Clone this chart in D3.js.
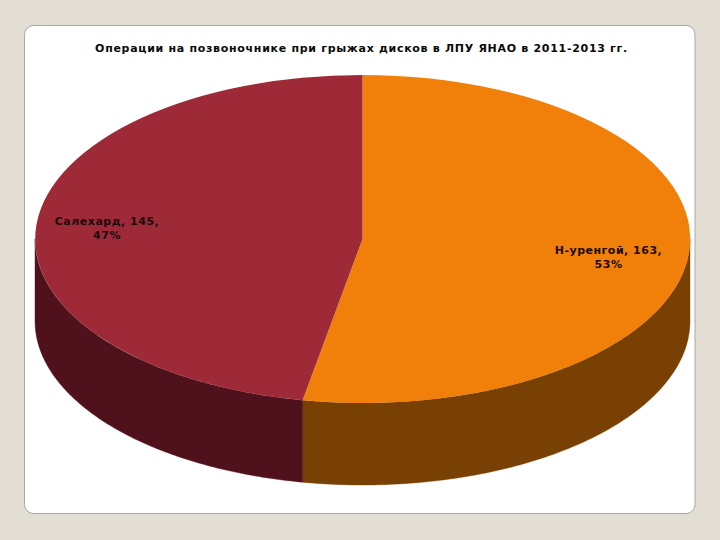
<!DOCTYPE html>
<html><head><meta charset="utf-8">
<script src="https://cdn.jsdelivr.net/npm/d3@7/dist/d3.min.js"></script>
<style>html,body{margin:0;padding:0;background:#e3ded4}svg{display:block}</style>
</head><body><svg id="c" width="720" height="540"></svg>
<script>
const chartTitle = "Операции на позвоночнике при грыжах дисков в ЛПУ ЯНАО в 2011-2013 гг.";
const categories = ["Н-уренгой", "Салехард"];
const values = [163, 145];
const percents = ["53%", "47%"];
const topColors = ["#f0800a", "#9e2a38"];
const sideColors = ["#784003", "#4f121c"];
const labelLines = [["Н-уренгой, 163,", "53%"], ["Салехард, 145,", "47%"]];

const cx = 362.5, cy = 239, rx = 327.5, ry = 164, depth = 82;
const svg = d3.select("#c");
const sx = d3.scaleLinear().domain([-1, 1]).range([cx - rx, cx + rx]);
const sy = d3.scaleLinear().domain([-1, 1]).range([cy - ry, cy + ry]);

svg.append("rect").attr("x", 24.5).attr("y", 25.5).attr("width", 670.5).attr("height", 488)
  .attr("rx", 9).attr("fill", "#fff").attr("stroke", "#a8a8a2").attr("stroke-width", 1);

svg.append("text").attr("x", 361.5).attr("y", 52).attr("text-anchor", "middle")
  .attr("font-family", "DejaVu Sans").attr("font-weight", "bold").attr("font-size", 11)
  .attr("letter-spacing", 0.7).attr("fill", "#0a0a0a").text(chartTitle);

const arcs = d3.pie().sort(null)(values);

// side walls: only the front half of the disc is visible
const wall = d3.area()
  .x(a => sx(Math.sin(a)))
  .y0(a => sy(-Math.cos(a)))
  .y1(a => sy(-Math.cos(a)) + depth);
arcs.forEach((d, i) => {
  const a0 = Math.max(d.startAngle, Math.PI / 2), a1 = Math.min(d.endAngle, 3 * Math.PI / 2);
  if (a1 <= a0) return;
  const n = 120, angles = d3.range(n + 1).map(k => a0 + (a1 - a0) * k / n);
  svg.append("path").attr("d", wall(angles)).attr("fill", sideColors[i])
    .attr("stroke", sideColors[i]).attr("stroke-width", 0.4);
});

// top face: unit-radius arcs stretched to the ellipse
const arc = d3.arc().innerRadius(0).outerRadius(1);
svg.append("g").attr("transform", `translate(${cx},${cy}) scale(${rx},${ry})`)
  .selectAll("path").data(arcs).join("path")
  .attr("d", arc).attr("fill", (d, i) => topColors[i]);

const labelPos = [[608.5, 253.5], [107, 225]];
labelLines.forEach((lines, i) => {
  const t = svg.append("text").attr("text-anchor", "middle")
    .attr("font-family", "DejaVu Sans").attr("font-weight", "bold").attr("font-size", 11)
    .attr("letter-spacing", 0.5).attr("fill", "#1c0a0a");
  lines.forEach((s, j) => t.append("tspan").attr("x", labelPos[i][0]).attr("y", labelPos[i][1] + j * 14.2).text(s));
});
</script></body></html>
